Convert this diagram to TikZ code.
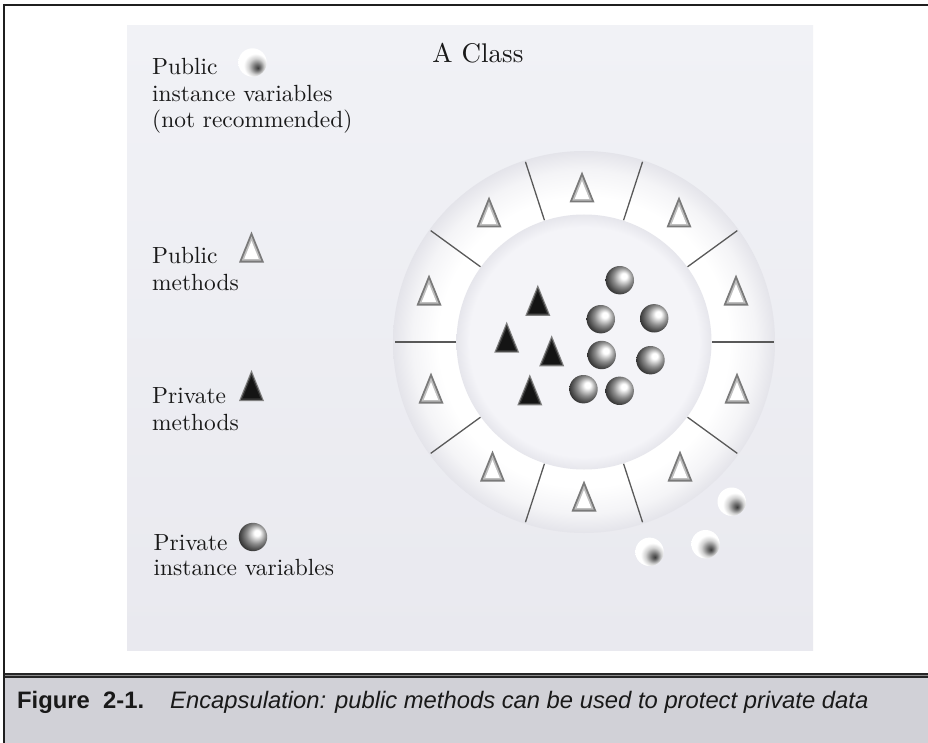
\documentclass[tikz,border=0pt]{standalone}
\usepackage{fontspec}
\newfontfamily\capfont{Liberation Sans}
\newfontfamily\legfont[Extension=.otf]{lmroman10-regular}
\definecolor{panTop}{RGB}{241,242,246}
\definecolor{panMid}{RGB}{250,250,251}
\definecolor{panBot}{RGB}{233,233,239}
\definecolor{capbg}{RGB}{209,209,215}
\definecolor{inn}{RGB}{244,244,248}
\definecolor{innedge}{RGB}{230,230,236}
\definecolor{ringedge}{RGB}{228,228,234}
\definecolor{txt}{RGB}{25,25,25}
\pgfdeclareradialshading{privball}{\pgfpoint{8bp}{8bp}}{color(0bp)=(white); color(5bp)=(white); color(17bp)=(black!45); color(24bp)=(black!66); color(30bp)=(black!82); color(50bp)=(black!85)}
\pgfdeclareradialshading{pubball}{\pgfpoint{9.5bp}{-9.5bp}}{color(0bp)=(black!76); color(5bp)=(black!58); color(14bp)=(black!18); color(21bp)=(white); color(50bp)=(white)}
\pgfdeclareradialshading{ringsh}{\pgforigin}{color(0bp)=(white); color(19bp)=(white); color(22.5bp)=(white!60!ringedge); color(25bp)=(ringedge); color(50bp)=(ringedge)}
\pgfdeclareradialshading{innersh}{\pgforigin}{color(0bp)=(inn); color(22.5bp)=(inn); color(25bp)=(innedge); color(50bp)=(innedge)}
\tikzset{
  legend/.style={anchor=base west, inner sep=0pt, text=txt, font=\legfont\fontsize{23.4}{27}\selectfont},
  divline/.style={draw=black!65, line width=1.3pt},
  tribord/.style={fill=black!52},
  trimid/.style={fill=black!25},
}
\newcommand\pubtri[2]{%
  \begin{scope}[shift={(#1,#2+7.06)}]
    \fill[tribord] (0,-22.56) -- (12.5,8.44) -- (-12.5,8.44) -- cycle;
    \fill[trimid, scale=0.78] (0,-22.56) -- (12.5,8.44) -- (-12.5,8.44) -- cycle;
    \fill[white, scale=0.58] (0,-22.56) -- (12.5,8.44) -- (-12.5,8.44) -- cycle;
  \end{scope}}
\newcommand\privtri[2]{%
  \begin{scope}[shift={(#1,#2+7.06)}]
    \fill[black!50] (0,-22.56) -- (12.5,8.44) -- (-12.5,8.44) -- cycle;
    \fill[black!80, scale=0.86] (0,-22.56) -- (12.5,8.44) -- (-12.5,8.44) -- cycle;
    \fill[black!92, scale=0.7] (0,-22.56) -- (12.5,8.44) -- (-12.5,8.44) -- cycle;
  \end{scope}}
\newcommand\privball[2]{\shade[shading=privball] (#1,#2) circle[radius=14.2];}
\newcommand\pubball[2]{\shade[shading=pubball] (#1,#2) circle[radius=14.2];}
\begin{document}
\begin{tikzpicture}[x=1pt,y=-1pt]
\useasboundingbox (0,0) rectangle (928,743);
\fill[white] (0,0) rectangle (928,743);
% panel
\shade[top color=panTop, middle color=panMid, bottom color=panBot] (127,26) rectangle (813,650);
% ring
\coordinate (c) at (584,342);
\shade[shading=ringsh] (c) circle[radius=191];
\shade[shading=innersh] (c) circle[radius=127.5];
\foreach \a in {0,36,...,324}
  \draw[divline, shift={(c)}] (\a:128) -- (\a:189.5);
% public methods in the ring
\pubtri{736}{290}
\pubtri{679}{212}
\pubtri{582}{187}
\pubtri{489}{212}
\pubtri{429}{290}
\pubtri{431}{388}
\pubtri{492.5}{466}
\pubtri{584}{496}
\pubtri{680}{466}
\pubtri{737}{388}
% private methods
\privtri{537.8}{300.3}
\privtri{506.7}{337.2}
\privtri{551.7}{350.8}
\privtri{529.8}{389.8}
% private variables
\privball{619.8}{280.2}
\privball{600.8}{319.2}
\privball{654.2}{318.3}
\privball{601.7}{355}
\privball{650.5}{360.2}
\privball{583.5}{389.2}
\privball{619.7}{390.8}
% public variables outside
\pubball{731.7}{501.7}
\pubball{705.5}{544.2}
\pubball{649.5}{551.8}
% legend icons
\pubball{252.5}{62.5}
\pubtri{251.5}{247}
\privtri{251.5}{385.5}
\privball{253}{537}
% texts
\node[anchor=base, inner sep=0pt, text=txt, font=\legfont\fontsize{27}{30}\selectfont] (title) at (478,63) {A Class};
\node[legend] (pv1) at (152,75) {Public};
\node[legend] (pv2) at (152,101.5) {instance variables};
\node[legend] (pv3) at (152,127.5) {(not recommended)};
\node[legend] (pm1) at (152,263.3) {Public};
\node[legend] (pm2) at (152,290) {methods};
\node[legend] (rm1) at (152,403.3) {Private};
\node[legend] (rm2) at (152,430) {methods};
\node[legend] (ri1) at (153.5,550) {Private};
\node[legend] (ri2) at (153.5,575.5) {instance variables};
% caption area
\fill[capbg] (4,677.5) rectangle (928,743);
\fill[black!85] (4,672.5) rectangle (928,677.5);
\fill[black!45] (4,674.6) rectangle (928,675.6);
\draw[black!88, line width=2.2pt] (4,4) -- (4,743);
\draw[black!88, line width=2pt] (3,5) -- (928,5);
\node[anchor=base west, inner sep=0pt, text=txt, font=\capfont\fontsize{23.8}{26}\selectfont\bfseries] (fig) at (17,708) {Figure\ \ 2-1.};
\node[anchor=base west, inner sep=0pt, text=txt, font=\capfont\fontsize{23.8}{26}\selectfont\itshape] (cap) at (170,708) {Encapsulation: public methods can be used to protect private data};
\end{tikzpicture}
\end{document}
